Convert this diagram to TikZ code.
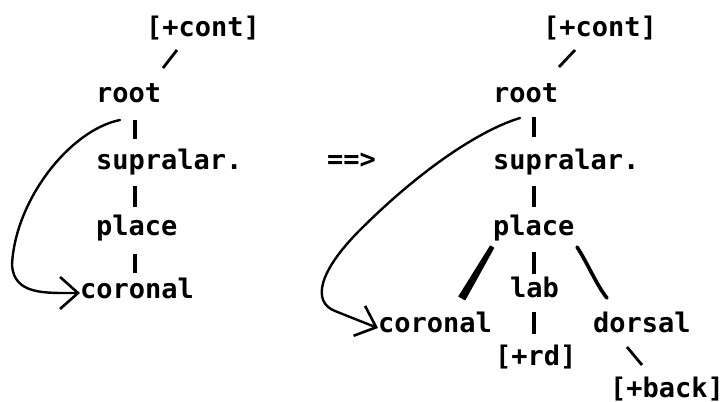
\documentclass[tikz,border=0pt]{standalone}
\usepackage{fontspec}
\newfontfamily\dotfont{DejaVu Sans Mono}
\usetikzlibrary{arrows.meta}
\begin{document}
\begin{tikzpicture}[x=1pt,y=-1pt,
  lbl/.style={font={\dotfont\bfseries\fontsize{27pt}{30pt}\selectfont}, anchor=base west, inner sep=0pt},
  stem/.style={line width=3.3pt},
  slant/.style={line width=2.8pt},
  link/.style={line width=2.4pt, line cap=round,
    -{Straight Barb[length=18pt,width=32pt,line width=2.6pt]}}]
\useasboundingbox (0,0) rectangle (724,402);
% ---------- left tree ----------
\node[lbl] (lcont)  at (146,36)  {[+cont]};
\node[lbl] (lroot)  at (96,102)  {root};
\node[lbl] (lsup)   at (96,169)  {supralar.};
\node[lbl] (lplace) at (96,235)  {place};
\node[lbl] (lcor)   at (80,298)  {coronal};
\node[lbl] (imp)    at (327,168) {==>};
\coordinate (la1) at (177,50);  \coordinate (la2) at (163,68);
\coordinate (lb1) at (135,120); \coordinate (lb2) at (135,139);
\coordinate (lc1) at (135,186); \coordinate (lc2) at (135,207);
\coordinate (ld1) at (135,254); \coordinate (ld2) at (135,273);
\draw[slant] (la1) -- (la2);
\draw[stem] (lb1) -- (lb2);
\draw[stem] (lc1) -- (lc2);
\draw[stem] (ld1) -- (ld2);
\coordinate (lstart) at (120,120);
\coordinate (lmid) at (12,265);
\coordinate (ltip) at (80,293);
\draw[link] (lstart) .. controls (70,130) and (15,200) .. (lmid)
  .. controls (14,295) and (45,293) .. (ltip);
% ---------- right tree ----------
\node[lbl] (rcont)  at (543,36)  {[+cont]};
\node[lbl] (rroot)  at (493,102) {root};
\node[lbl] (rsup)   at (493,169) {supralar.};
\node[lbl] (rplace) at (493,235) {place};
\node[lbl] (rlab)   at (510,297) {lab};
\node[lbl] (rcor)   at (378,332) {coronal};
\node[lbl] (rdor)   at (593,332) {dorsal};
\node[lbl] (rrd)    at (495,365) {[+rd]};
\node[lbl] (rback)  at (610,397) {[+back]};
\coordinate (ra1) at (575,50);  \coordinate (ra2) at (559,67);
\coordinate (rb1) at (534,117); \coordinate (rb2) at (534,137);
\coordinate (rc1) at (534,186); \coordinate (rc2) at (534,207);
\coordinate (rd1) at (534,252); \coordinate (rd2) at (534,274);
\coordinate (re1) at (534,312); \coordinate (re2) at (534,334);
\coordinate (rf1) at (627,347); \coordinate (rf2) at (642,365);
\draw[slant] (ra1) -- (ra2);
\draw[stem] (rb1) -- (rb2);
\draw[stem] (rc1) -- (rc2);
\draw[stem] (rd1) -- (rd2);
\draw[stem] (re1) -- (re2);
\draw[slant] (rf1) -- (rf2);
% thick tapered stroke place -> coronal
\filldraw[line width=1.2pt, line join=round]
  (493.6,248.0) -- (490.4,246.0) -- (459.0,296.3) -- (465.0,299.7) -- cycle;
% stroke place -> dorsal
\coordinate (rg1) at (577,247); \coordinate (rg2) at (607,298);
\draw[line width=3.6pt, line cap=round] (rg1) .. controls (587,262) and (597,286) .. (rg2);
\coordinate (rstart) at (520,118);
\coordinate (rmid) at (360,230);
\coordinate (rtip) at (378,328);
\draw[link] (rstart) .. controls (480,130) and (420,170) .. (rmid)
  .. controls (318,272) and (312,302) .. (335,311)
  .. controls (350,317) and (365,323) .. (rtip);
\end{tikzpicture}
\end{document}
